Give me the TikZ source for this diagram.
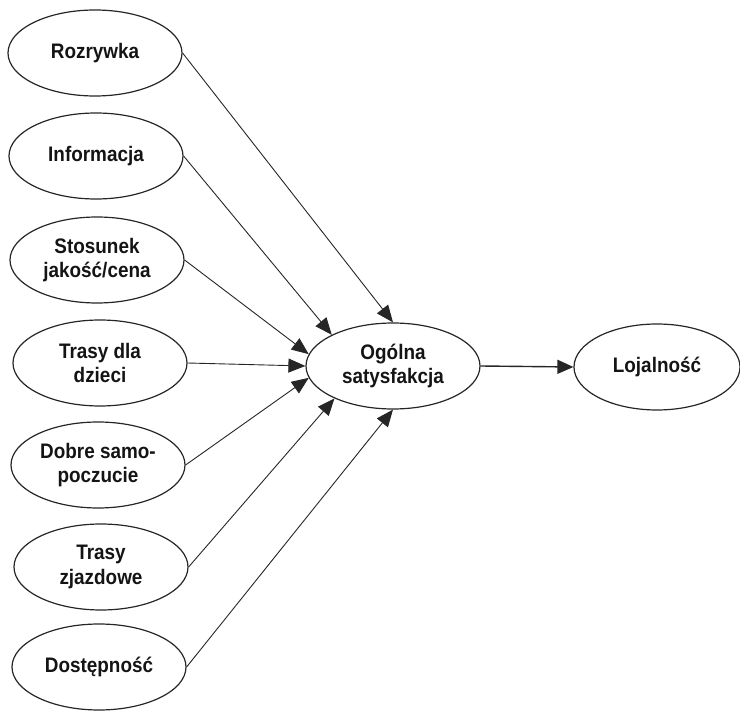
\documentclass[tikz,border=0pt]{standalone}
\usepackage{fontspec}
\setmainfont{Liberation Sans}[FakeStretch=0.9]
\usetikzlibrary{shapes.geometric,arrows.meta}
\begin{document}
\begin{tikzpicture}[x=1pt,y=-1pt,
  factor/.style={ellipse,draw=black!85,line width=1.2pt,inner sep=0pt,
    minimum width=174pt,minimum height=86pt,align=center,
    text=black!92,font=\fontsize{21}{24.5}\selectfont\bfseries},
  link/.style={draw=black!85,line width=0.9pt,
    -{Triangle[length=17pt,width=14pt]}},
  mainlink/.style={draw=black!85,line width=1.4pt,
    -{Triangle[length=16pt,width=14pt]}}]
\useasboundingbox (0,0) rectangle (740,711);

% predictors
\node[factor] (roz) at (95,53)  {Rozrywka};
\node[factor] (inf) at (96,156) {Informacja};
\node[factor] (sto) at (97,260) {Stosunek\\jakość/cena};
\node[factor] (tra) at (100,363) {Trasy dla\\dzieci};
\node[factor] (dob) at (98,465) {Dobre samo-\\poczucie};
\node[factor] (zja) at (101,567) {Trasy\\zjazdowe};
\node[factor] (dos) at (99,667) {Dostępność};

% outcomes
\node[factor] (sat) at (393,366) {Ogólna\\satysfakcja};
\node[factor,minimum width=166pt] (loj) at (657,367) {Lojalność};

% paths
\draw[link] (roz.east) -- (sat.90);
\draw[link] (inf.east) -- (sat.153);
\draw[link] (sto.east) -- (sat.172);
\draw[link] (tra.east) -- (sat.180);
\draw[link] (dob.east) -- (sat.188);
\draw[link] (zja.east) -- (sat.209);
\draw[link] (dos.east) -- (sat.270);
\draw[mainlink] (sat.east) -- (loj.west);
\end{tikzpicture}
\end{document}
